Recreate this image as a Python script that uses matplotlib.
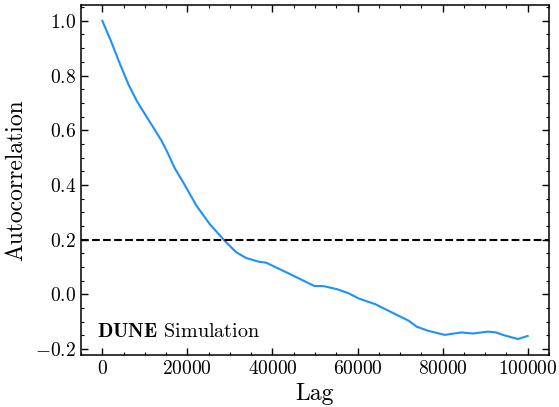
import matplotlib
matplotlib.use('Agg')
import matplotlib.pyplot as plt
from matplotlib.ticker import MultipleLocator

plt.rcParams['font.family'] = 'serif'
plt.rcParams['font.serif'] = ['cmr10', 'DejaVu Serif']
plt.rcParams['mathtext.fontset'] = 'cm'
plt.rcParams['axes.formatter.use_mathtext'] = True

lags = [0, 1900, 4200, 6150, 8100, 10050, 12000, 13950, 15500, 17000,
        19000, 22100, 25200, 28700, 31400, 33800, 36900, 38500, 41600, 43900,
        49800, 52100, 55200, 57900, 60300, 64200, 67300, 72000, 73900, 76600,
        80500, 84400, 87100, 90700, 92500, 94600, 97700, 100000]
acf = [1.0, 0.931, 0.84, 0.767, 0.707, 0.658, 0.61, 0.561, 0.513, 0.462,
       0.41, 0.325, 0.258, 0.197, 0.155, 0.133, 0.119, 0.116, 0.093, 0.076,
       0.031, 0.030, 0.019, 0.004, -0.015, -0.036, -0.06, -0.096, -0.118, -0.133,
       -0.148, -0.139, -0.143, -0.136, -0.139, -0.15, -0.163, -0.152]
threshold = 0.2

fig = plt.figure(figsize=(5.59, 4.07), dpi=100)
ax = fig.add_axes([0.145, 0.128, 0.837, 0.86])

ax.plot(lags, acf, color='dodgerblue', lw=1.5)
ax.axhline(threshold, color='black', ls='--', lw=1.5)

ax.set_xlabel('Lag', fontsize=17, labelpad=4)
ax.set_ylabel('Autocorrelation', fontsize=17, labelpad=6)
ax.text(0.035, 0.04, r'$\mathbf{DUNE}$ Simulation', transform=ax.transAxes,
        fontsize=14.5, ha='left', va='bottom')

ax.xaxis.set_major_locator(MultipleLocator(20000))
ax.xaxis.set_minor_locator(MultipleLocator(5000))
ax.yaxis.set_major_locator(MultipleLocator(0.2))
ax.yaxis.set_minor_locator(MultipleLocator(0.05))
ax.tick_params(which='both', direction='in', top=True, right=True, labelsize=14)
ax.tick_params(which='major', length=5, width=1)
ax.tick_params(which='minor', length=2.5, width=0.8)
ax.ticklabel_format(axis='x', style='plain', useOffset=False)
for s in ax.spines.values():
    s.set_linewidth(1.1)

fig.savefig('out.png', dpi=100)
